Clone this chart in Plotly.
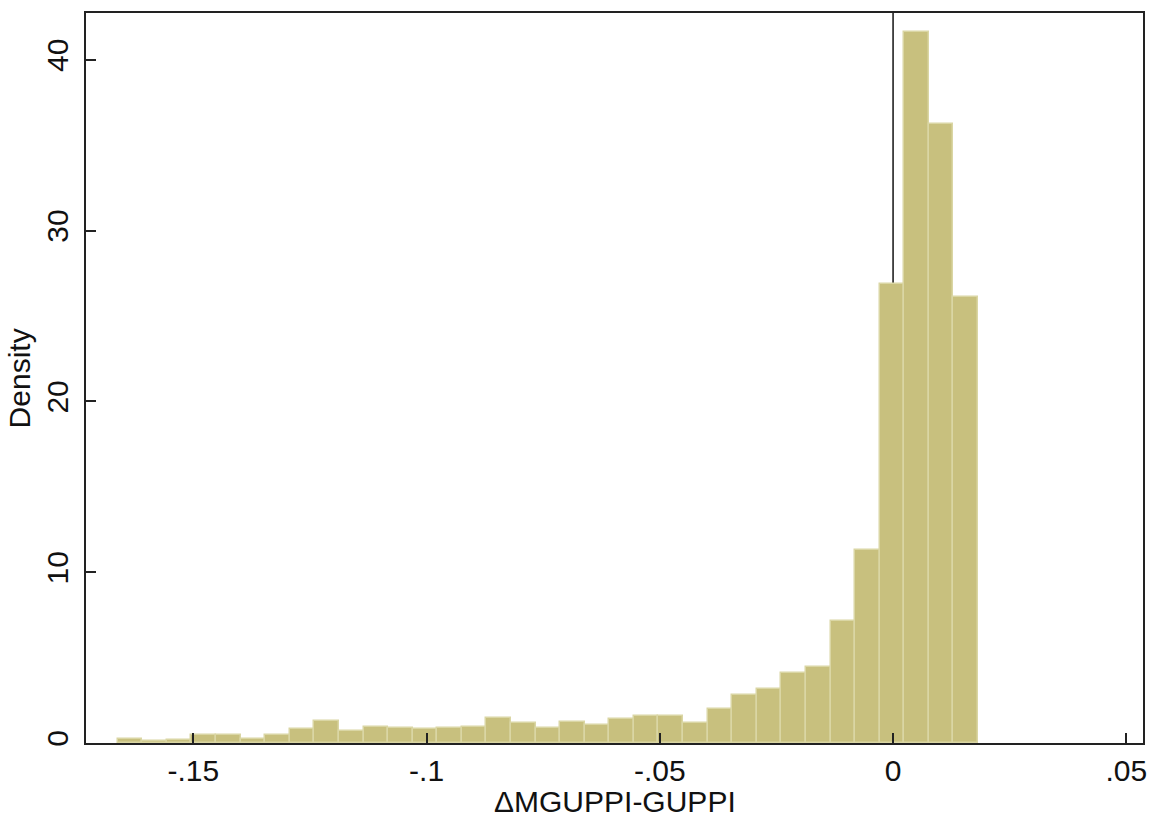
import plotly.graph_objects as go

# Histogram data (density per bin)
bin_lo = -0.16623          # left edge of first bin
bin_width = 0.00527        # bin width
density = [0.25, 0.10, 0.20, 0.45, 0.45, 0.25, 0.45, 0.80, 1.30, 0.70,
           0.95, 0.85, 0.80, 0.90, 0.95, 1.45, 1.17, 0.88, 1.23, 1.07,
           1.39, 1.56, 1.56, 1.20, 2.00, 2.79, 3.18, 4.12, 4.44, 7.12,
           11.32, 26.85, 41.6, 36.25, 26.12]
x_tick_vals = [-0.15, -0.1, -0.05, 0, 0.05]
x_tick_text = ["-.15", "-.1", "-.05", "0", ".05"]
y_tick_vals = [0, 10, 20, 30, 40]
y_tick_text = ["0", "10", "20", "30", "40"]
x_title = "ΔMGUPPI-GUPPI"
y_title = "Density"

centers = [bin_lo + bin_width * (i + 0.5) for i in range(len(density))]

FONT = "Liberation Sans, Arial, sans-serif"
FS = 30

fig = go.Figure()
fig.add_trace(go.Bar(
    x=centers, y=density, width=[bin_width] * len(density),
    marker=dict(color="#C8C07E", line=dict(color="#DAD6A4", width=1.5)),
    showlegend=False, hoverinfo="skip",
))

fig.add_shape(type="line", xref="x", yref="paper", x0=0, x1=0, y0=0, y1=1,
              line=dict(color="#222222", width=1.6), layer="below")

fig.add_annotation(text=x_title, xref="paper", yref="paper", x=0.5, y=-0.08,
                   xanchor="center", yanchor="middle", showarrow=False,
                   font=dict(family=FONT, size=FS, color="#111111"))
fig.add_annotation(text=y_title, xref="paper", yref="paper", x=-0.063, y=0.5,
                   xanchor="center", yanchor="middle", showarrow=False,
                   textangle=-90,
                   font=dict(family=FONT, size=FS, color="#111111"))

fig.update_layout(
    width=1151, height=818,
    margin=dict(l=86, r=8, t=13, b=75, autoexpand=False),
    paper_bgcolor="white", plot_bgcolor="white",
    bargap=0,
    font=dict(family=FONT, size=FS, color="#111111"),
    xaxis=dict(
        range=[-0.17302, 0.05358], automargin=False,
        tickvals=x_tick_vals, ticktext=x_tick_text,
        ticks="inside", ticklen=10, tickwidth=1.5, tickcolor="#222222",
        showline=True, linecolor="#222222", linewidth=2, mirror=True,
        showgrid=False, zeroline=False,
        tickfont=dict(size=FS),
    ),
    yaxis=dict(
        range=[0, 42.74], automargin=False,
        tickvals=y_tick_vals, ticktext=y_tick_text, tickangle=-90,
        ticks="inside", ticklen=10, tickwidth=1.5, tickcolor="#222222",
        ticklabelstandoff=4,
        showline=True, linecolor="#222222", linewidth=2, mirror=True,
        showgrid=False, zeroline=False,
        tickfont=dict(size=FS),
    ),
)

fig.write_html(
    "out.html",
    config={"displayModeBar": False},
    post_script="document.body.style.margin='0';document.body.style.overflow='hidden';",
)
